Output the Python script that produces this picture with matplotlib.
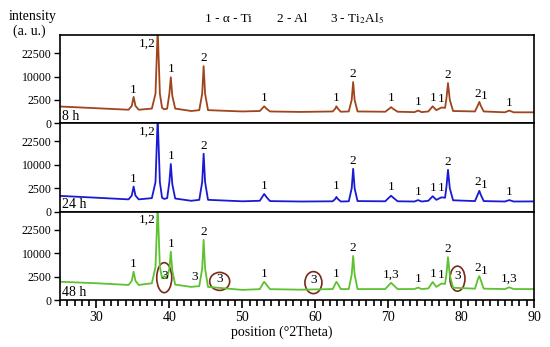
import numpy as np
import matplotlib
matplotlib.use("Agg")
import matplotlib.pyplot as plt
from matplotlib.patches import Ellipse
from matplotlib.transforms import ScaledTranslation

plt.rcParams['font.family'] = ['Liberation Serif', 'DejaVu Serif']
plt.rcParams['mathtext.fontset'] = 'stix'

# 2theta positions shared by the three scans
two_theta = [25, 30, 34.4, 34.85, 35.1, 35.35, 35.8, 37.6, 38.1, 38.4, 38.7, 39.0, 39.3, 39.7,
             40.0, 40.2, 40.4, 40.8, 43.0, 44.1, 44.5, 44.7, 44.9, 45.3, 50, 52.4, 52.8, 53.0,
             53.3, 53.8, 58, 62.4, 62.75, 62.9, 63.1, 63.5, 64.6, 65.0, 65.2, 65.4, 65.8,
             69.6, 70.1, 70.4, 70.7, 71.3, 73.6, 74.1, 74.6, 75.5, 76.1, 76.6, 77.3, 77.8,
             78.0, 78.2, 78.45, 78.9, 81.9, 82.3, 82.5, 82.7, 83.1, 86.0, 86.6, 87.2, 90]

int_8h = [1300, 1050, 850, 1400, 3200, 1400, 850, 1000, 4000, 40000, 4000, 1100, 900, 1000,
          4000, 9700, 3500, 1000, 700, 800, 4000, 14900, 4000, 800, 650, 700, 1100, 1330,
          1000, 650, 600, 650, 1000, 1330, 1000, 620, 650, 2500, 7800, 2500, 650,
          620, 950, 1200, 950, 620, 580, 750, 580, 650, 1330, 800, 1150, 1100,
          3000, 7400, 2500, 700, 650, 1500, 2100, 1400, 650, 560, 750, 560, 560]

int_24h = [1150, 900, 700, 1200, 2900, 1200, 700, 850, 4000, 40000, 4000, 900, 750, 850,
           4000, 10400, 3500, 800, 550, 650, 4000, 15300, 4000, 650, 500, 550, 1100, 1440,
           1000, 520, 480, 500, 750, 1000, 750, 480, 500, 2500, 8400, 2500, 520,
           500, 900, 1170, 900, 500, 480, 620, 480, 550, 1100, 650, 950, 900,
           3000, 8000, 2500, 600, 520, 1400, 2000, 1300, 520, 480, 620, 480, 490]

int_48h = [1540, 1300, 1050, 1700, 3700, 1700, 1050, 1300, 5000, 40000, 5000, 2200, 2600, 2200,
           4500, 10700, 4000, 1100, 800, 900, 4500, 16500, 4500, 800, 480, 550, 1200, 1540,
           1100, 550, 500, 560, 1200, 1540, 1200, 560, 560, 3000, 8900, 3000, 560,
           560, 1050, 1370, 1050, 560, 560, 720, 560, 620, 1500, 800, 1250, 1200,
           3200, 8400, 2800, 700, 600, 2000, 2640, 1800, 600, 560, 750, 560, 560]

scans = ['8 h', '24 h', '48 h']
colors = ['#a0441c', '#1a1ad2', '#5cc230']

# peak labels: (2theta, intensity of label bottom, text)
labels_8h = [(35.1, 3500, '1'), (36.9, 25000, '1,2'), (40.2, 10500, '1'), (44.7, 16000, '2'),
             (53.0, 1700, '1'), (62.9, 1700, '1'), (65.2, 8600, '2'), (70.4, 1800, '1'),
             (74.1, 1100, '1'), (76.1, 1700, '1'), (77.3, 1600, '1'), (78.2, 8200, '2'),
             (82.25, 2600, '2'), (83.15, 2100, '1'), (86.6, 950, '1')]
labels_24h = [(35.1, 3200, '1'), (36.9, 25000, '1,2'), (40.2, 11300, '1'), (44.7, 16500, '2'),
              (53.0, 1800, '1'), (62.9, 1700, '1'), (65.2, 9200, '2'), (70.4, 1600, '1'),
              (74.1, 900, '1'), (76.1, 1500, '1'), (77.3, 1400, '1'), (78.2, 8700, '2'),
              (82.25, 2500, '2'), (83.15, 2000, '1'), (86.6, 850, '1')]
labels_48h = [(35.1, 4000, '1'), (36.9, 25000, '1,2'), (40.2, 11600, '1'), (39.3, 1500, '3'),
              (43.5, 1400, '3'), (44.7, 17800, '2'), (46.9, 1050, '3'), (53.0, 1900, '1'),
              (59.75, 900, '3'), (62.9, 1900, '1'), (65.2, 9700, '2'), (70.4, 1700, '1,3'),
              (74.1, 1000, '1'), (76.1, 1800, '1'), (77.3, 1700, '1'), (78.2, 9200, '2'),
              (79.5, 1500, '3'), (82.25, 3000, '2'), (83.15, 2500, '1'), (86.6, 1100, '1,3')]

# circled Ti2Al5 reflections in the 48 h scan: (2theta, intensity, width px, height px)
circles_48h = [(39.3, 2300, 15, 30), (46.9, 1600, 20, 18), (59.75, 1400, 17, 22), (79.5, 2100, 15, 25)]

intensities = [int_8h, int_24h, int_48h]
all_labels = [labels_8h, labels_24h, labels_48h]

fig, axes = plt.subplots(3, 1, figsize=(5.5, 3.47), dpi=100, sharex=True)
fig.subplots_adjust(left=0.109, right=0.971, top=0.899, bottom=0.135, hspace=0)

for ax, name, col, yv, labs in zip(axes, scans, colors, intensities, all_labels):
    ax.set_yscale('function', functions=(lambda v: np.sqrt(np.clip(v, 0, None)), lambda v: np.square(v)))
    ax.plot(two_theta, yv, color=col, lw=1.3)
    ax.set_xlim(25, 90)
    ax.set_ylim(0, 35500)
    ax.set_yticks([0, 2500, 10000, 22500])
    ax.set_yticklabels(['0', '2500', '10000', '22500'])
    ax.tick_params(axis='y', direction='out', length=4, width=1, labelsize=8.5, pad=2)
    for s in ax.spines.values():
        s.set_linewidth(1.2)
    ax.text(0.005, 0.01, name, transform=ax.transAxes, fontsize=10, ha='left', va='bottom')
    for x, y, t in labs:
        ax.text(x, y, t, fontsize=9.5, ha='center', va='bottom')

for ax in axes[:2]:
    ax.tick_params(axis='x', bottom=False, labelbottom=False)

ax3 = axes[2]
ax3.set_xticks(np.arange(30, 91, 10))
ax3.set_xticks(np.arange(25, 91, 1), minor=True)
ax3.tick_params(axis='x', which='major', direction='out', length=6, width=1.2, labelsize=10, pad=2)
ax3.tick_params(axis='x', which='minor', direction='out', length=4, width=1.2)

for x, y, w, h in circles_48h:
    tr = fig.dpi_scale_trans + ScaledTranslation(x, y, ax3.transData)
    ax3.add_patch(Ellipse((0, 0), w / 100, h / 100, transform=tr, fill=False,
                          edgecolor='#7a2a1a', lw=1.2, clip_on=False))

fig.text(0.016, 0.952, 'intensity', fontsize=10, ha='left', va='center')
fig.text(0.023, 0.909, '(a. u.)', fontsize=10, ha='left', va='center')
fig.text(0.415, 0.945, '1 - α - Ti', fontsize=9.5, ha='center', va='center')
fig.text(0.532, 0.945, '2 - Al', fontsize=9.5, ha='center', va='center')
fig.text(0.65, 0.945, r'3 - Ti$_2$Al$_5$', fontsize=9.5, ha='center', va='center')
fig.text(0.512, 0.042, 'position (°2Theta)', fontsize=10, ha='center', va='center')

fig.savefig('out.png', dpi=100)
